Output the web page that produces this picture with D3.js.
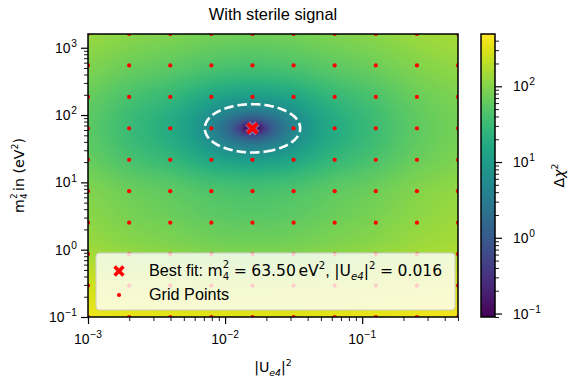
<!DOCTYPE html>
<html>
<head>
<meta charset="utf-8">
<script src="https://cdn.jsdelivr.net/npm/d3@7"></script>
<style>
  body { margin: 0; background: #fff; }
  text { font-family: "Liberation Sans", Arial, Helvetica, sans-serif; fill: #000; white-space: pre; }
  .math { font-family: "DejaVu Sans", sans-serif; }
</style>
</head>
<body>
<svg id="chart" width="574" height="380"></svg>
<script>
// ---- data -------------------------------------------------------------
// scan grid: mixing |U_e4|^2 (columns) and mass splitting m4^2 in eV^2 (rows)
const uGrid = [0.001, 0.001995, 0.00398, 0.00794, 0.01584, 0.0316, 0.0630, 0.1257, 0.2508, 0.5];
const mGrid = [0.1, 0.2932, 0.8596, 2.520, 7.389, 21.66, 63.50, 186.2, 545.8, 1600];

// delta chi^2 at every grid point, rows from m4^2 = 0.1 (bottom) to 1600 (top)
const deltaChi2 = [
  [385, 361, 347.6, 334.4, 330, 334.4, 347.6, 363, 388, 410],
  [265, 241, 227.6, 214.4, 210, 214.4, 227.6, 243, 268, 290],
  [150, 126, 112.6,  99.4,  95,  99.4, 112.6, 128, 153, 175],
  [113,  89,  75.6,  62.4,  58,  62.4,  75.6,  91, 116, 138],
  [ 95,  71,  57.6,  44.4,  40,  44.4,  57.6,  73,  98, 120],
  [65.1, 41.1, 27.7, 14.5, 10.1, 14.5,  27.7, 43.1, 68.1, 90.1],
  [ 55,  31,  17.6,   4.4,   0,   4.4,  17.6,  33,  58,  80],
  [65.1, 41.1, 27.7, 14.5, 10.1, 14.5,  27.7, 43.1, 68.1, 90.1],
  [ 95,  71,  57.6,  44.4,  40,  44.4,  57.6,  73,  98, 120],
  [130, 106,  92.6,  79.4,  75,  79.4,  92.6, 108, 133, 155]
];

const bestFitU = 0.01584;
const bestFitM = 63.50;
const contourLevel = 5.99;

const xDomain = [0.001, 0.5];
const yDomain = [0.1, 1600];
const colorDomain = [0.09, 490];
const xMajor = [1e-3, 1e-2, 1e-1];
const yMajor = [1e-1, 1e0, 1e1, 1e2, 1e3];
const cMajor = [1e-1, 1e0, 1e1, 1e2];

// ---- layout -----------------------------------------------------------
const M = { l: 88, r: 458, t: 34, b: 317 };
const PW = M.r - M.l, PH = M.b - M.t;
const CB = { l: 481, r: 495 };
const FONT = 13.9;

const svg = d3.select("#chart");
const x = d3.scaleLog().domain(xDomain).range([M.l, M.r]);
const y = d3.scaleLog().domain(yDomain).range([M.b, M.t]);
const color = d3.scaleSequentialLog(d3.interpolateViridis).domain(colorDomain).clamp(true);

// fractional grid index from log coordinate
const xIdx = d3.scaleLinear().domain(uGrid.map(Math.log10)).range(d3.range(uGrid.length));
const yIdx = d3.scaleLinear().domain(mGrid.map(Math.log10)).range(d3.range(mGrid.length));

function getRow(row, i) {
  const n = row.length;
  if (i < 0) return 2 * row[0] - row[1];
  if (i > n - 1) return 2 * row[n - 1] - row[n - 2];
  return row[i];
}
function cr(p0, p1, p2, p3, t) {
  return 0.5 * (2 * p1 + (-p0 + p2) * t + (2 * p0 - 5 * p1 + 4 * p2 - p3) * t * t +
    (-p0 + 3 * p1 - 3 * p2 + p3) * t * t * t);
}
const nRows = deltaChi2.length;
function rowAt(j) {
  if (j < 0) return deltaChi2[0].map((v, i) => 2 * v - deltaChi2[1][i]);
  if (j > nRows - 1) return deltaChi2[nRows - 1].map((v, i) => 2 * v - deltaChi2[nRows - 2][i]);
  return deltaChi2[j];
}
// bicubic (Catmull-Rom) surface through the grid values
function surface(fx, fy) {
  const i0 = Math.min(Math.floor(fx), uGrid.length - 2), tx = fx - i0;
  const j0 = Math.min(Math.floor(fy), mGrid.length - 2), ty = fy - j0;
  const col = [];
  for (let dj = -1; dj <= 2; dj++) {
    const row = rowAt(j0 + dj);
    col.push(cr(getRow(row, i0 - 1), getRow(row, i0), getRow(row, i0 + 1), getRow(row, i0 + 2), tx));
  }
  return cr(col[0], col[1], col[2], col[3], ty);
}

// ---- heat map ---------------------------------------------------------
const field = new Float64Array(PW * PH);
const canvas = document.createElement("canvas");
canvas.width = PW; canvas.height = PH;
const ctx = canvas.getContext("2d");
const img = ctx.createImageData(PW, PH);
for (let py = 0; py < PH; py++) {
  const fy = yIdx(Math.log10(y.invert(M.t + py + 0.5)));
  for (let px = 0; px < PW; px++) {
    const fx = xIdx(Math.log10(x.invert(M.l + px + 0.5)));
    const v = surface(fx, fy);
    field[py * PW + px] = v;
    const c = d3.rgb(color(Math.max(v, colorDomain[0])));
    const k = 4 * (py * PW + px);
    img.data[k] = c.r; img.data[k + 1] = c.g; img.data[k + 2] = c.b; img.data[k + 3] = 255;
  }
}
ctx.putImageData(img, 0, 0);

svg.append("defs").append("clipPath").attr("id", "plotClip")
  .append("rect").attr("x", M.l).attr("y", M.t).attr("width", PW).attr("height", PH);

svg.append("image")
  .attr("x", M.l).attr("y", M.t).attr("width", PW).attr("height", PH)
  .attr("preserveAspectRatio", "none")
  .attr("href", canvas.toDataURL());

// confidence contour (region below the level)
const neg = Array.from(field, v => -v);
const contours = d3.contours().size([PW, PH]).thresholds([-contourLevel])(neg);
svg.append("g").attr("transform", `translate(${M.l},${M.t})`)
  .selectAll("path").data(contours).join("path")
  .attr("d", d3.geoPath(d3.geoIdentity()))
  .attr("fill", "none").attr("stroke", "#fff").attr("stroke-width", 2.6)
  .attr("stroke-dasharray", "9.5,4");

// grid points
const pts = [];
mGrid.forEach(mv => uGrid.forEach(uv => pts.push([uv, mv])));
svg.append("g").attr("clip-path", "url(#plotClip)")
  .selectAll("circle").data(pts).join("circle")
  .attr("cx", d => x(d[0])).attr("cy", d => y(d[1])).attr("r", 2.1)
  .attr("fill", "#ff0000");

// best-fit cross
function cross(g, cx, cy, s, halo) {
  const d = `M${cx - s},${cy - s}L${cx + s},${cy + s}M${cx - s},${cy + s}L${cx + s},${cy - s}`;
  if (halo) g.append("path").attr("d", d).attr("stroke", "#fff").attr("stroke-opacity", 0.35)
    .attr("stroke-width", 6.5);
  g.append("path").attr("d", d).attr("stroke", "#ff0000").attr("stroke-width", 3.6);
}
cross(svg.append("g"), x(bestFitU), y(bestFitM), 4.8, true);

// ---- rich text helper: one <text>, one <tspan> per run ----------------
function rich(parent, px, py, runs, anchor) {
  const g = parent.append("g");
  const text = g.append("text");
  let cx = 0, kept = 0;
  runs.forEach(r => {
    cx += r.gap || 0;
    const t = text.append("tspan").attr("x", cx).attr("y", r.dy || 0)
      .attr("font-size", r.size).text(r.t);
    if (r.math) t.attr("class", "math");
    if (r.italic) t.attr("font-style", "italic");
    const w = t.node().getComputedTextLength();
    if (r.keep) { kept = w; }
    else { cx += Math.max(w, kept); kept = 0; }
  });
  const off = anchor === "middle" ? -cx / 2 : anchor === "end" ? -cx : 0;
  g.attr("transform", `translate(${px + off},${py})`);
  return g;
}
const sup = s => String(s).replace("-", "\u2212");
function powLabel(parent, px, py, v, anchor) {
  const e = Math.round(Math.log10(v));
  return rich(parent, px, py, [
    { t: "10", size: FONT },
    { t: sup(e), size: 10.2, dy: -5.8, gap: 0.8 }
  ], anchor);
}

// ---- legend -----------------------------------------------------------
const leg = svg.append("g");
leg.append("rect").attr("x", 96).attr("y", 253).attr("width", 359).attr("height", 57)
  .attr("rx", 3.5).attr("fill", "#fff").attr("fill-opacity", 0.8)
  .attr("stroke", "#cccccc").attr("stroke-width", 1);
cross(leg, 119, 271, 4.4, false);
leg.append("circle").attr("cx", 119).attr("cy", 295).attr("r", 2.1).attr("fill", "#ff0000");
const LF = 16.2, MF = 15.6, SF = 10.2;
rich(leg, 149, 276, [
  { t: "Best fit:", size: LF },
  { t: "m", size: MF, math: true, gap: 4.5 },
  { t: "2", size: SF, dy: -8, keep: true, math: true },
  { t: "4", size: SF, dy: 4, math: true },
  { t: "=", size: MF, math: true, gap: 4.5 },
  { t: d3.format(".2f")(bestFitM), size: MF, math: true, gap: 4.5 },
  { t: "eV", size: MF, math: true, gap: 2.6 },
  { t: "2", size: SF, dy: -7, math: true },
  { t: ",", size: LF },
  { t: "|U", size: MF, math: true, gap: 4.5 },
  { t: "e4", size: SF, dy: 3.8, italic: true, math: true },
  { t: "|", size: MF, math: true },
  { t: "2", size: SF, dy: -7, math: true },
  { t: "=", size: MF, math: true, gap: 4.5 },
  { t: d3.format(".3f")(bestFitU), size: MF, math: true, gap: 4.5 }
], "start");
rich(leg, 149, 300, [{ t: "Grid Points", size: LF }], "start");

// ---- axes -------------------------------------------------------------
function minors(dom) {
  const out = [];
  for (let e = Math.floor(Math.log10(dom[0])) - 1; e <= Math.ceil(Math.log10(dom[1])); e++)
    for (let k = 2; k <= 9; k++) {
      const v = k * Math.pow(10, e);
      if (v >= dom[0] * 0.999 && v <= dom[1] * 1.001) out.push(v);
    }
  return out;
}
function styleAxis(g, w) {
  g.select(".domain").remove();
  g.selectAll("line").attr("stroke", "#000").attr("stroke-width", w);
  g.selectAll("text").remove();
}
svg.append("g").attr("transform", `translate(0,${M.b})`)
  .call(d3.axisBottom(x).tickValues(xMajor).tickSizeInner(7).tickSizeOuter(0))
  .call(g => styleAxis(g, 1.2));
svg.append("g").attr("transform", `translate(0,${M.b})`)
  .call(d3.axisBottom(x).tickValues(minors(xDomain)).tickSizeInner(4).tickSizeOuter(0))
  .call(g => styleAxis(g, 0.9));
svg.append("g").attr("transform", `translate(${M.l},0)`)
  .call(d3.axisLeft(y).tickValues(yMajor).tickSizeInner(7).tickSizeOuter(0))
  .call(g => styleAxis(g, 1.2));
svg.append("g").attr("transform", `translate(${M.l},0)`)
  .call(d3.axisLeft(y).tickValues(minors(yDomain)).tickSizeInner(4).tickSizeOuter(0))
  .call(g => styleAxis(g, 0.9));

xMajor.forEach(v => powLabel(svg, x(v), M.b + 27, v, "middle"));
yMajor.forEach(v => powLabel(svg, M.l - 11, y(v) + 5, v, "end"));

svg.append("rect").attr("x", M.l).attr("y", M.t).attr("width", PW).attr("height", PH)
  .attr("fill", "none").attr("stroke", "#000").attr("stroke-width", 1.5);

// axis titles
const AF = 14.2, AS = 9.4;
rich(svg, (M.l + M.r) / 2, 372, [
  { t: "|U", size: AF, math: true },
  { t: "e4", size: AS, dy: 3.6, italic: true, math: true },
  { t: "|", size: AF, math: true },
  { t: "2", size: AS, dy: -6.5, math: true }
], "middle");

const yl = svg.append("g").attr("transform", `translate(24,${(M.t + M.b) / 2}) rotate(-90)`);
rich(yl, 0, 0, [
  { t: "m", size: AF, math: true },
  { t: "2", size: 8.8, dy: -7, keep: true, math: true },
  { t: "4", size: 8.8, dy: 3.2, math: true },
  { t: "in (eV", size: AF, math: true, gap: 2.5 },
  { t: "2", size: AS, dy: -6.5, math: true },
  { t: ")", size: AF, math: true }
], "middle");

// title
svg.append("text").attr("x", (M.l + M.r) / 2).attr("y", 20).attr("text-anchor", "middle")
  .attr("font-size", 16.4).text("With sterile signal");

// ---- colour bar -------------------------------------------------------
const cy = d3.scaleLog().domain(colorDomain).range([M.b, M.t]);
const grad = svg.select("defs").append("linearGradient").attr("id", "cbGrad")
  .attr("x1", 0).attr("y1", 1).attr("x2", 0).attr("y2", 0);
d3.range(0, 1.0001, 0.05).forEach(t => grad.append("stop")
  .attr("offset", t).attr("stop-color", d3.interpolateViridis(t)));
svg.append("rect").attr("x", CB.l).attr("y", M.t).attr("width", CB.r - CB.l).attr("height", PH)
  .attr("fill", "url(#cbGrad)");
svg.append("g").attr("transform", `translate(${CB.r},0)`)
  .call(d3.axisRight(cy).tickValues(cMajor).tickSizeInner(7).tickSizeOuter(0))
  .call(g => styleAxis(g, 1.2));
svg.append("g").attr("transform", `translate(${CB.r},0)`)
  .call(d3.axisRight(cy).tickValues(minors(colorDomain)).tickSizeInner(4).tickSizeOuter(0))
  .call(g => styleAxis(g, 0.9));
cMajor.forEach(v => powLabel(svg, CB.r + 18, cy(v) + 5, v, "start"));
svg.append("rect").attr("x", CB.l).attr("y", M.t).attr("width", CB.r - CB.l).attr("height", PH)
  .attr("fill", "none").attr("stroke", "#000").attr("stroke-width", 1.5);

const cl = svg.append("g").attr("transform", `translate(564,${(M.t + M.b) / 2}) rotate(-90)`);
rich(cl, 0, 0, [
  { t: "\u0394", size: AF, math: true },
  { t: "\u03c7", size: AF, italic: true, math: true },
  { t: "2", size: AS, dy: -6.5, math: true }
], "middle");
</script>
</body>
</html>
